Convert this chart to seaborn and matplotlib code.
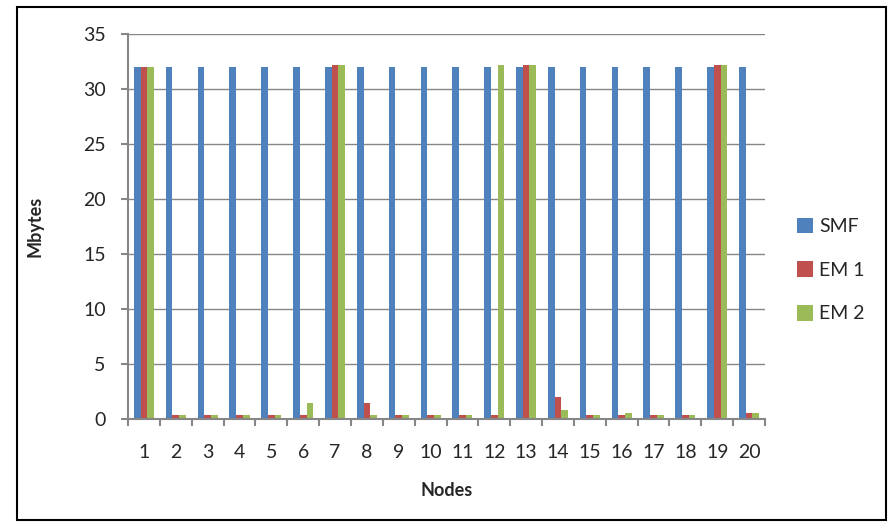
import numpy as np
import pandas as pd
import seaborn as sns
import matplotlib.pyplot as plt
from matplotlib.patches import Rectangle

nodes = [str(i) for i in range(1, 21)]
smf = [32] * 20
em1 = [32, 0.4, 0.4, 0.4, 0.4, 0.4, 32.2, 1.5, 0.4, 0.4,
       0.4, 0.4, 32.2, 2.0, 0.4, 0.4, 0.4, 0.4, 32.2, 0.55]
em2 = [32, 0.4, 0.4, 0.4, 0.4, 1.5, 32.2, 0.4, 0.4, 0.4,
       0.4, 32.2, 32.2, 0.85, 0.4, 0.55, 0.4, 0.4, 32.2, 0.55]
series = ["SMF", "EM 1", "EM 2"]
colors = ["#4F81BD", "#C0504D", "#9BBB59"]

df = pd.DataFrame({"Nodes": nodes * 3,
                   "Mbytes": smf + em1 + em2,
                   "series": [s for s in series for _ in nodes]})

sns.set_theme(style="white")
plt.rcParams['font.family'] = ['Lato', 'DejaVu Sans']

fig = plt.figure(figsize=(8.94, 5.29), dpi=100)
ax = fig.add_axes([128 / 894, 1 - 419 / 529, (765 - 128) / 894, (419 - 34) / 529])

sns.barplot(data=df, x="Nodes", y="Mbytes", hue="series", palette=colors,
            width=0.63, ax=ax, saturation=1, linewidth=0)

ax.set_ylim(0, 35)
ax.set_xlim(-0.5, 19.5)
ax.set_yticks(range(0, 36, 5))
ax.yaxis.grid(True, color="#868686", linewidth=1)
ax.set_axisbelow(True)
for s in ["top", "right"]:
    ax.spines[s].set_visible(False)
for s in ["left", "bottom"]:
    ax.spines[s].set_color("#868686")
    ax.spines[s].set_linewidth(1.5)
ax.set_xticks(np.arange(-0.5, 20, 1), minor=True)
ax.tick_params(axis="x", which="minor", length=5, color="#868686", width=1.5, bottom=True)
ax.tick_params(axis="x", which="major", length=0, labelsize=14, pad=18)
ax.tick_params(axis="y", length=5, color="#868686", width=1.5, left=True, labelsize=14, pad=11)
ax.set_xlabel("Nodes", fontsize=13, fontweight="bold")
ax.set_ylabel("Mbytes", fontsize=13, fontweight="bold")
ax.xaxis.set_label_coords(0.5, -0.164)
ax.yaxis.set_label_coords(-0.132, 0.5)

ax.legend(loc="center left", bbox_to_anchor=(1.022, 0.387), frameon=False,
          fontsize=14, handlelength=0.85, handleheight=0.85, labelspacing=1.35,
          handletextpad=0.3)

fig.patches.append(Rectangle((17 / 894, 1 - 520 / 529), (886 - 17) / 894, (520 - 7) / 529,
                             transform=fig.transFigure, fill=False,
                             edgecolor="black", linewidth=1.5))

fig.savefig("out.png", dpi=100)
